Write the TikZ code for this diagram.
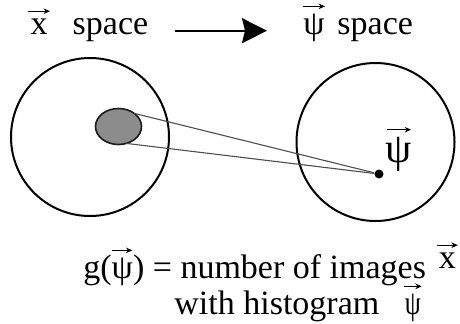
\documentclass[tikz,border=0pt]{standalone}
\usepackage{fontspec}
\setmainfont{Liberation Serif}
\usepackage{tikz}
\usetikzlibrary{arrows.meta,positioning,shapes.geometric}
\definecolor{cblob}{HTML}{8C8C8C}
\definecolor{cblobD}{HTML}{1A1A1A}
\definecolor{cray}{HTML}{4D4D4D}
\tikzset{
  space/.style={draw, circle, line width=1pt, inner sep=0pt, outer sep=0pt, minimum size=79pt},
  blob/.style={draw=cblobD, fill=cblob, ellipse, line width=0.8pt, inner sep=0pt, outer sep=0pt,
               minimum width=23pt, minimum height=18pt},
  hdot/.style={circle, fill=black, inner sep=0pt, minimum size=4.5pt},
  lbl/.style={inner sep=0pt, anchor=base west},
  maparrow/.style={-{Stealth[length=12.5pt, width=12.5pt, inset=1.5pt]}, line width=1pt},
  ray/.style={draw=cray, line width=0.55pt},
}
% small vector arrow over a letter
\newcommand{\vecarrow}[1]{\tikz[x=1pt,y=1pt,baseline=0pt]\draw[-{Stealth[length=3.2pt,width=2.8pt]},line width=0.6pt] (0,0) -- (#1,0);}
\newcommand{\vsym}[2]{\leavevmode\vbox{\offinterlineskip\halign{\hfil##\hfil\cr\vecarrow{#1}\cr\noalign{\kern2.2pt}\hbox{#2}\cr}}}

\begin{document}
\begin{tikzpicture}[x=0.5pt, y=-0.5pt, font=\fontsize{17}{20}\selectfont]
  \useasboundingbox (0,0) rectangle (460,323);
  % the two spaces
  \node[lbl] (xsp) at (27,34) {\vsym{11}{x}\hspace{0.65em}space};
  \node[lbl] (psisp) at (302,34) {\vsym{11}{ψ}\hspace{0.35em}space};
  \coordinate (mapA) at (175,30.7);
  \coordinate (mapB) at (267,30.7);
  \draw[maparrow] (mapA) -- (mapB);
  \node[space] (xball) at (90,137) {};
  \node[space] (psiball) at (375.5,142) {};
  % images and their histogram
  \node[blob] (imgs) at (118.5,126.5) {};
  \node[hdot] (pt) at (379,174) {};
  \node[inner sep=0pt, font=\fontsize{21}{25}\selectfont] (psilbl) at (399,149) {\vsym{12}{ψ}};
  \draw[ray] (imgs.40) -- (pt);
  \draw[ray] (imgs.-65) -- (pt);
  % caption
  \node[lbl] (gline) at (83,278) {g(\vsym{10}{ψ}) = number of images\hspace{0.3em}\raisebox{5pt}{\vsym{10.5}{x}}};
  \node[lbl] (hline) at (174,314) {with histogram\hspace{0.7em}\vsym{9}{\scalebox{0.75}[1]{ψ}}};
\end{tikzpicture}
\end{document}
